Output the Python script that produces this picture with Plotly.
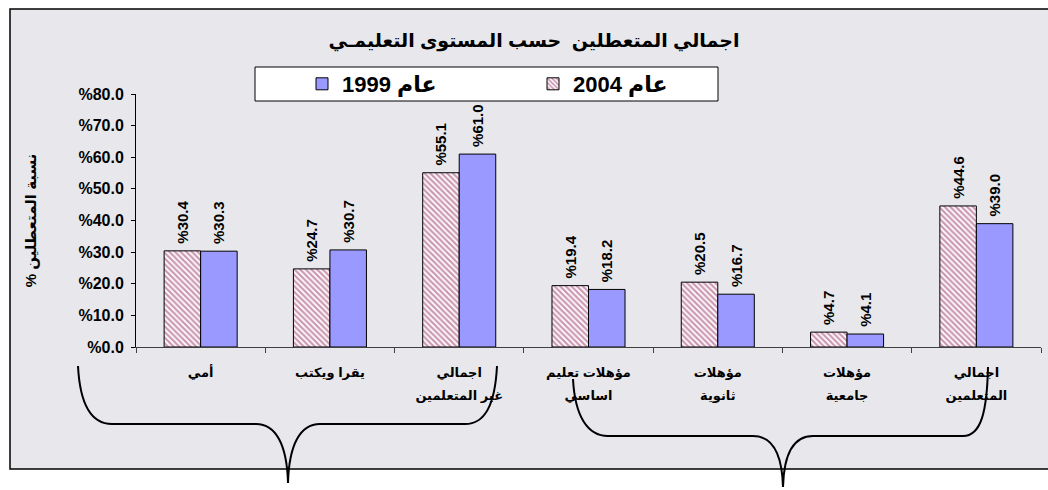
import plotly.graph_objects as go

# Unemployment rate by education level, 2004 vs 1999
categories = [
    "أمي",
    "يقرا ويكتب",
    "اجمالي<br>غير المتعلمين",
    "مؤهلات تعليم<br>اساسي",
    "مؤهلات<br>ثانوية",
    "مؤهلات<br>جامعية",
    "اجمالي<br>المتعلمين",
]
values_2004 = [30.4, 24.7, 55.1, 19.4, 20.5, 4.7, 44.6]
values_1999 = [30.3, 30.7, 61.0, 18.2, 16.7, 4.1, 39.0]
name_2004 = "عام 2004"
name_1999 = "عام 1999"
y_tick_values = [0, 10, 20, 30, 40, 50, 60, 70, 80]
y_tick_labels = ["%0.0", "%10.0", "%20.0", "%30.0", "%40.0", "%50.0", "%60.0", "%70.0", "%80.0"]
title_text = "اجمالي المتعطلين  حسب المستوى التعليمـي"
# trailing RLM keeps the percent sign at the start of the right-to-left line
y_title = "نسبة المتعطلين %\u200f"

W, H = 1048, 490
ML, MR, MT, MB = 136, 7, 94, 143
PW, PH = W - ML - MR, H - MT - MB

FONT = "Arial, Liberation Sans, DejaVu Sans, sans-serif"


def px(x):
    return (x - ML) / PW


def py(y):
    return (H - MB - y) / PH


def path(points):
    # points: list of (command, [x, y, ...]) in pixel space -> paper path
    out = []
    for cmd, coords in points:
        pairs = []
        for i in range(0, len(coords), 2):
            pairs.append(f"{px(coords[i]):.5f},{py(coords[i + 1]):.5f}")
        out.append(cmd + " ".join(pairs))
    return " ".join(out)


def label_text(v):
    # leading no-break space leaves a small gap between bar top and rotated label
    return f"\u00a0%{v:.1f}"


def tick_label(t):
    return "<br>".join(f"<span style='font-size:13px'>{p}</span>" for p in t.split("<br>"))


fig = go.Figure()

fig.add_trace(go.Bar(
    x=categories, y=values_2004, name=name_2004, legendrank=2,
    marker=dict(color="white", line=dict(color="black", width=1),
                pattern=dict(shape="\\", fgcolor="#993366", bgcolor="white",
                             size=4, solidity=0.55)),
    text=[label_text(v) for v in values_2004], textposition="outside",
    textangle=-90, constraintext="none",
    textfont=dict(family=FONT, size=15, color="black", weight="bold"),
    cliponaxis=False,
))
fig.add_trace(go.Bar(
    x=categories, y=values_1999, name=name_1999, legendrank=1,
    marker=dict(color="#9999FF", line=dict(color="black", width=1)),
    text=[label_text(v) for v in values_1999], textposition="outside",
    textangle=-90, constraintext="none",
    textfont=dict(family=FONT, size=15, color="black", weight="bold"),
    cliponaxis=False,
))

shapes = [
    # chart area background with frame
    dict(type="rect", xref="paper", yref="paper", layer="below",
         x0=px(10), x1=px(1052), y0=py(469), y1=py(9),
         fillcolor="#e8e8ec", line=dict(color="black", width=1.5)),
    # legend frame
    dict(type="rect", xref="paper", yref="paper", layer="above",
         x0=px(255), x1=px(718), y0=py(101), y1=py(67),
         fillcolor="white", line=dict(color="black", width=1)),
    # brace under the non-educated groups
    dict(type="path", xref="paper", yref="paper", layer="above",
         line=dict(color="black", width=2),
         path=path([("M", [78, 366]), ("C", [80, 405, 92, 424, 112, 424]),
                    ("L", [256, 424]), ("C", [276, 424, 287, 445, 288, 483]),
                    ("C", [289, 445, 300, 424, 320, 424]),
                    ("L", [465, 424]), ("C", [485, 424, 495, 405, 497, 366])])),
    # brace under the educated groups
    dict(type="path", xref="paper", yref="paper", layer="above",
         line=dict(color="black", width=2),
         path=path([("M", [573, 379]), ("C", [575, 417, 588, 436, 608, 436]),
                    ("L", [753, 436]), ("C", [771, 436, 782, 450, 783, 487]),
                    ("C", [784, 450, 795, 436, 813, 436]),
                    ("L", [963, 436]), ("C", [981, 436, 987, 412, 988, 367])])),
]

fig.update_layout(
    width=W, height=H,
    margin=dict(l=ML, r=MR, t=MT, b=MB),
    paper_bgcolor="white", plot_bgcolor="rgba(0,0,0,0)",
    font=dict(family=FONT, color="black"),
    barmode="group", bargap=0.435, bargroupgap=0,
    title=dict(text=title_text, x=534 / W, xanchor="center", y=1 - 40 / H,
               yanchor="middle", font=dict(family=FONT, size=19, color="black", weight="bold")),
    showlegend=True,
    legend=dict(orientation="h", x=px(302), xanchor="left", y=py(84), yanchor="middle",
                bgcolor="rgba(0,0,0,0)", borderwidth=0, entrywidth=186,
                font=dict(family=FONT, size=22, color="black", weight="bold")),
    shapes=shapes,
    xaxis=dict(
        tickmode="array", tickvals=categories,
        ticktext=[tick_label(c) for c in categories],
        tickfont=dict(family=FONT, size=18, color="black", weight="bold"),
        showline=True, linecolor="#404040", linewidth=1,
        ticks="outside", ticklen=5, tickcolor="#404040", tickson="boundaries",
        ticklabelstandoff=7,
        showgrid=False, zeroline=False, fixedrange=True,
    ),
    yaxis=dict(
        range=[0, 80], tickmode="array", tickvals=y_tick_values, ticktext=y_tick_labels,
        tickfont=dict(family=FONT, size=16, color="black", weight="bold"),
        showline=True, linecolor="black", linewidth=1,
        ticks="outside", ticklen=4, tickcolor="black", ticklabelstandoff=4,
        showgrid=False, zeroline=False,
        title=dict(text=y_title, standoff=38,
                   font=dict(family=FONT, size=15, color="black", weight="bold")),
    ),
)

fig.write_html("out.html")
